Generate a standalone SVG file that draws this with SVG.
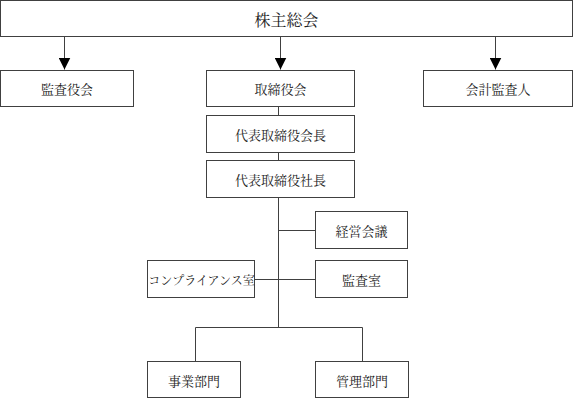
<svg xmlns="http://www.w3.org/2000/svg" width="575" height="399" viewBox="0 0 575 399">
<style>
.box{fill:#fff;stroke:#404040;stroke-width:1}
.t{font-family:"Noto Serif CJK JP","Noto Sans CJK JP",serif;font-size:13px;fill:#222;text-anchor:middle;dominant-baseline:central}
.c{fill:none;stroke:#404040;stroke-width:1}
</style>
<defs>
<marker id="ad" markerUnits="userSpaceOnUse" markerWidth="12" markerHeight="12" viewBox="0 0 12 12" refX="12" refY="6" orient="auto">
<path d="M0,0 L12,6 L0,12 Z" fill="#000"/>
</marker>
</defs>
<g id="connectors">
<line class="c" x1="64.5" y1="37" x2="64.5" y2="69.5" marker-end="url(#ad)"/>
<line class="c" x1="280.5" y1="37" x2="280.5" y2="69.5" marker-end="url(#ad)"/>
<line class="c" x1="495.5" y1="37" x2="495.5" y2="69.5" marker-end="url(#ad)"/>
<line class="c" x1="278.5" y1="107" x2="278.5" y2="115"/>
<line class="c" x1="278.5" y1="153" x2="278.5" y2="160"/>
<line class="c" x1="278.5" y1="198" x2="278.5" y2="327"/>
<line class="c" x1="278.5" y1="230.5" x2="315" y2="230.5"/>
<line class="c" x1="255" y1="279.5" x2="315" y2="279.5"/>
<polyline class="c" points="195.5,361 195.5,327.5 362.5,327.5 362.5,361"/>
</g>
<g id="kabunushi">
<rect class="box" x="0.5" y="0.5" width="572" height="36"/>
<text class="t" x="286.5" y="19" style="font-size:16px">株主総会</text>
</g>
<g id="kansayakukai">
<rect class="box" x="0.5" y="70.5" width="133" height="36"/>
<text class="t" x="67" y="88.5">監査役会</text>
</g>
<g id="torishimariyakukai">
<rect class="box" x="206.5" y="70.5" width="148" height="36"/>
<text class="t" x="280.5" y="88.5">取締役会</text>
</g>
<g id="kaikeikansanin">
<rect class="box" x="423.5" y="70.5" width="149" height="36"/>
<text class="t" x="498" y="88.5">会計監査人</text>
</g>
<g id="kaicho">
<rect class="box" x="206.5" y="115.5" width="148" height="37"/>
<text class="t" x="280.5" y="134">代表取締役会長</text>
</g>
<g id="shacho">
<rect class="box" x="206.5" y="160.5" width="148" height="37"/>
<text class="t" x="280.5" y="179">代表取締役社長</text>
</g>
<g id="keieikaigi">
<rect class="box" x="315.5" y="211.5" width="92" height="37"/>
<text class="t" x="361.5" y="230">経営会議</text>
</g>
<g id="kansashitsu">
<rect class="box" x="315.5" y="260.5" width="92" height="37"/>
<text class="t" x="361.5" y="279">監査室</text>
</g>
<g id="compliance">
<rect class="box" x="147.5" y="260.5" width="107" height="37"/>
<text class="t" x="201.5" y="279" style="font-size:12px">コンプライアンス室</text>
</g>
<g id="jigyobumon">
<rect class="box" x="147.5" y="361.5" width="93" height="36"/>
<text class="t" x="194" y="380">事業部門</text>
</g>
<g id="kanribumon">
<rect class="box" x="315.5" y="361.5" width="93" height="36"/>
<text class="t" x="362" y="380">管理部門</text>
</g>
</svg>
